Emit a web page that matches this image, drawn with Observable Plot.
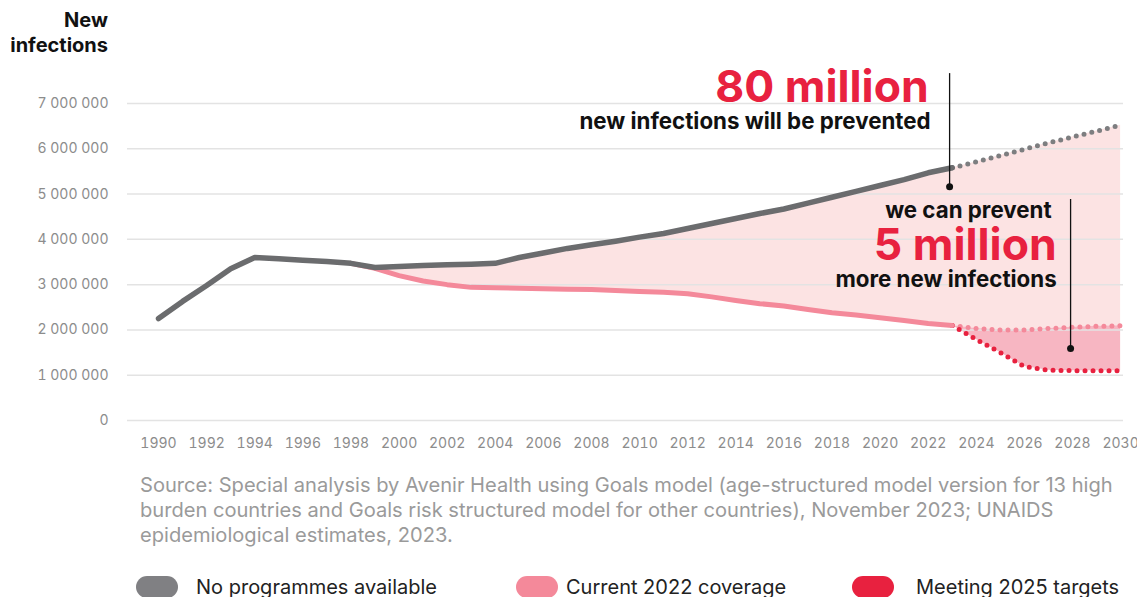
<!DOCTYPE html>
<html>
<head>
<meta charset="utf-8">
<script src="https://cdn.jsdelivr.net/npm/d3@7"></script>
<script src="https://cdn.jsdelivr.net/npm/@observablehq/plot@0.6"></script>
<style>
  html, body { margin: 0; padding: 0; background: #fff; }
  body { width: 1137px; height: 597px; position: relative; overflow: hidden; font-family: Inter, "Noto Sans", sans-serif; }
  #head { position: absolute; left: 0; top: 8px; width: 108px; text-align: right; font-weight: 700; font-size: 20px; line-height: 25px; color: #111; }
  #chart { position: absolute; left: 0; top: 60px; }
  #caption { position: absolute; left: 140px; top: 473px; font-size: 20.1px; line-height: 25px; color: #9a9a9a; white-space: nowrap; }
  .leg { position: absolute; top: 576px; height: 22px; display: flex; align-items: center; font-size: 20px; color: #222; white-space: nowrap; }
  .pill { position: absolute; top: 576px; width: 42px; height: 22px; border-radius: 11px; }
</style>
</head>
<body>
<div id="head">New<br>infections</div>
<div id="chart"></div>
<div id="caption"></div>
<div id="legend"></div>
<script>
// ---------------- data ----------------
const histYears = [1990,1991,1992,1993,1994,1995,1996,1997,1998,1999,2000,2001,2002,2003,2004,2005,2006,2007,2008,2009,2010,2011,2012,2013,2014,2015,2016,2017,2018,2019,2020,2021,2022,2023];
const noProgrammesHist = [2.25,2.63,2.98,3.35,3.60,3.57,3.54,3.51,3.47,3.38,3.40,3.42,3.44,3.45,3.47,3.60,3.70,3.80,3.88,3.96,4.05,4.13,4.24,4.35,4.46,4.57,4.67,4.80,4.93,5.06,5.19,5.32,5.47,5.58];
const coverageYears = [1998,1999,2000,2001,2002,2003,2004,2005,2006,2007,2008,2009,2010,2011,2012,2013,2014,2015,2016,2017,2018,2019,2020,2021,2022,2023];
const coverageHist = [3.47,3.36,3.20,3.08,3.00,2.94,2.93,2.92,2.91,2.90,2.89,2.87,2.85,2.83,2.80,2.73,2.65,2.58,2.53,2.45,2.38,2.33,2.27,2.21,2.14,2.10];
const projYears = [2023,2024,2025,2026,2027,2028,2029,2030];
const noProgrammesProj = [5.58,5.71,5.85,5.99,6.13,6.26,6.39,6.52];
const coverageProj = [2.10,2.03,2.00,2.00,2.03,2.06,2.08,2.09];
const targetsProj = [2.10,1.79,1.50,1.19,1.11,1.10,1.10,1.10];
const xTicks = [1990,1992,1994,1996,1998,2000,2002,2004,2006,2008,2010,2012,2014,2016,2018,2020,2022,2024,2026,2028,2030];
const yTicks = [0,1000000,2000000,3000000,4000000,5000000,6000000,7000000];
const seriesNames = ["No programmes available","Current 2022 coverage","Meeting 2025 targets"];
const seriesColors = ["#808083","#f4899a","#e8213f"];
const captionLines = [
  "Source: Special analysis by Avenir Health using Goals model (age-structured model version for 13 high",
  "burden countries and Goals risk structured model for other countries), November 2023; UNAIDS",
  "epidemiological estimates, 2023."
];
// annotations: [year, value (millions)]
const bigLabels = [
  {x: 2022.02, y: 7.35, text: "80 million"},
  {x: 2027.34, y: 3.86, text: "5 million"}
];
const smallLabels = [
  {x: 2022.10, y: 6.60, text: "new infections will be prevented"},
  {x: 2027.13, y: 4.63, text: "we can prevent"},
  {x: 2027.34, y: 3.11, text: "more new infections"}
];
const pointers = [
  {x: 2022.89, y1: 7.66, y2: 5.16},
  {x: 2027.92, y1: 4.88, y2: 1.59}
];

// ---------------- tables ----------------
const M = 1e6;
const gray = histYears.map((t,i) => ({t, v: noProgrammesHist[i]*M}));
const grayProj = projYears.map((t,i) => ({t, v: noProgrammesProj[i]*M}));
const cov = coverageYears.map((t,i) => ({t, v: coverageHist[i]*M}));
const covProj = projYears.map((t,i) => ({t, v: coverageProj[i]*M}));
const tgtProj = projYears.map((t,i) => ({t, v: targetsProj[i]*M}));
const lightBand = coverageYears.map((t,i) => ({t, lo: coverageHist[i]*M, hi: noProgrammesHist[histYears.indexOf(t)]*M}))
  .concat(projYears.slice(1).map((t,i) => ({t, lo: coverageProj[i+1]*M, hi: noProgrammesProj[i+1]*M})));
const darkBand = projYears.map((t,i) => ({t, lo: targetsProj[i]*M, hi: coverageProj[i]*M}));
const ptr = pointers.map(p => ({x: p.x, y1: p.y1*M, y2: p.y2*M}));
const big = bigLabels.map(d => ({...d, y: d.y*M}));
const small = smallLabels.map(d => ({...d, y: d.y*M}));

const fmt = v => d3.format(",")(v).replace(/,/g, " ");

const chart = Plot.plot({
  width: 1137, height: 400,
  marginLeft: 127, marginRight: 14, marginTop: 43, marginBottom: 40,
  style: {fontFamily: "Inter, sans-serif", fontSize: "14px", color: "#8c8c8c", background: "transparent", overflow: "visible"},
  x: {domain: [1988.71, 2030.12]},
  y: {domain: [0, 7*M]},
  marks: [
    Plot.areaY(lightBand, {x: "t", y1: "lo", y2: "hi", fill: "#fce3e3", curve: "linear"}),
    Plot.areaY(darkBand, {x: "t", y1: "lo", y2: "hi", fill: "#f7b6c2"}),
    Plot.gridY(yTicks, {stroke: "#e3e3e3", strokeOpacity: 1, strokeWidth: 1.5}),
    Plot.axisX(xTicks, {tickSize: 0, tickPadding: 18, tickFormat: d => String(d), label: null, fill: "#8c8c8c"}),
    Plot.axisY(yTicks, {tickSize: 0, tickPadding: 19, tickFormat: fmt, label: null, fill: "#8c8c8c"}),
    Plot.line(covProj, {x: "t", y: "v", stroke: seriesColors[1], strokeWidth: 5, strokeDasharray: "0,8", strokeLinecap: "round"}),
    Plot.line(tgtProj, {x: "t", y: "v", stroke: seriesColors[2], strokeWidth: 5, strokeDasharray: "0,8", strokeLinecap: "round"}),
    Plot.line(grayProj, {x: "t", y: "v", stroke: "#7d7e80", strokeWidth: 5, strokeDasharray: "0,8", strokeLinecap: "round"}),
    Plot.line(cov, {x: "t", y: "v", stroke: seriesColors[1], strokeWidth: 5, strokeLinejoin: "round"}),
    Plot.line(gray, {x: "t", y: "v", stroke: "#6b6c6e", strokeWidth: 5.5, strokeLinejoin: "round", strokeLinecap: "round"}),
    Plot.ruleX(ptr, {x: "x", y1: "y1", y2: "y2", stroke: "#111", strokeWidth: 1.3}),
    Plot.dot(ptr, {x: "x", y: "y2", r: 3.5, fill: "#111", stroke: "none"}),
    Plot.text(big, {x: "x", y: "y", text: "text", textAnchor: "end", lineAnchor: "middle", fontSize: 44.5, fontWeight: 700, fill: "#e8213f"}),
    Plot.text(small, {x: "x", y: "y", text: "text", textAnchor: "end", lineAnchor: "middle", fontSize: 22.3, fontWeight: 700, fill: "#111"})
  ]
});
document.getElementById("chart").appendChild(chart);

document.getElementById("caption").innerHTML = captionLines.join("<br>");

const legPos = [{pill: 136, text: 196}, {pill: 516, text: 566}, {pill: 852, text: 916}];
const legend = document.getElementById("legend");
seriesNames.forEach((name, i) => {
  const p = document.createElement("div");
  p.className = "pill"; p.style.left = legPos[i].pill + "px"; p.style.background = seriesColors[i];
  legend.appendChild(p);
  const t = document.createElement("div");
  t.className = "leg"; t.style.left = legPos[i].text + "px"; t.textContent = name;
  legend.appendChild(t);
});
</script>
</body>
</html>
